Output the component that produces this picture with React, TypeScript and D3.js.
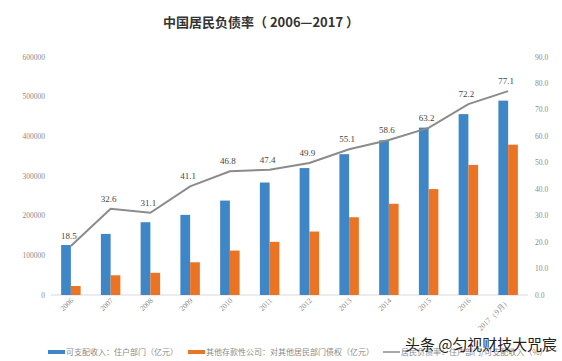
import React, { useEffect, useRef } from 'react'
import * as d3 from 'd3'

const years = ['2006', '2007', '2008', '2009', '2010', '2011', '2012', '2013', '2014', '2015', '2016', '2017（9月）']
const income = [126000, 154000, 183500, 202000, 238000, 283600, 320000, 355000, 390000, 422000, 456000, 490000]
const claims = [22700, 49700, 56000, 82500, 112000, 134000, 160000, 196000, 230000, 267000, 328000, 379000]
const debtRatio = [18.5, 32.6, 31.1, 41.1, 46.8, 47.4, 49.9, 55.1, 58.6, 63.2, 72.2, 77.1]
const leftTicks = [0, 100000, 200000, 300000, 400000, 500000, 600000]
const rightTicks = [0, 10, 20, 30, 40, 50, 60, 70, 80, 90]
const legendNames = ['可支配收入：住户部门（亿元）', '其他存款性公司：对其他居民部门债权（亿元）', '居民负债率：住户部门/可支配收入（%）']

const BLUE = '#3f86c6'
const ORANGE = '#ea7424'
const GRAY = '#8b8b8b'

export default function App() {
  const ref = useRef<SVGSVGElement>(null)

  const width = 562
  const height = 361
  const margin = { top: 57, right: 34, bottom: 66, left: 51 }

  useEffect(() => {
    const svg = d3.select(ref.current)
    svg.selectAll('*').remove()

    const x = d3.scaleBand().domain(years).range([margin.left, width - margin.right]).paddingInner(0.51).paddingOuter(0.255)
    const sub = d3.scaleBand().domain(['a', 'b']).range([0, x.bandwidth()])
    const yL = d3.scaleLinear().domain([0, 600000]).range([height - margin.bottom, margin.top])
    const yR = d3.scaleLinear().domain([0, 90]).range([height - margin.bottom, margin.top])

    // title
    svg.append('text')
      .attr('x', 261).attr('y', 27)
      .attr('text-anchor', 'middle')
      .attr('font-family', 'Noto Sans CJK SC, sans-serif')
      .attr('font-size', 13).attr('font-weight', 'bold')
      .attr('fill', '#333')
      .text('中国居民负债率（ 2006—2017 ）')

    // left axis labels
    svg.append('g').selectAll('text').data(leftTicks).join('text')
      .attr('x', 45).attr('y', d => yL(d) + 2.5)
      .attr('text-anchor', 'end')
      .attr('font-family', 'Liberation Serif, serif')
      .attr('font-size', 7.5).attr('fill', '#8a8a8a')
      .text(d => d)

    // right axis labels
    svg.append('g').selectAll('text').data(rightTicks).join('text')
      .attr('x', 535).attr('y', d => yR(d) + 2.5)
      .attr('font-family', 'Liberation Serif, serif')
      .attr('font-size', 7.5).attr('fill', '#8a8a8a')
      .text(d => d.toFixed(1))

    // baseline
    svg.append('line')
      .attr('x1', margin.left).attr('x2', width - margin.right)
      .attr('y1', yL(0)).attr('y2', yL(0))
      .attr('stroke', '#d9d9d9')

    // bars
    const g = svg.append('g')
    g.selectAll('rect.inc').data(income).join('rect')
      .attr('x', (d, i) => x(years[i])! + sub('a')!)
      .attr('y', d => yL(d))
      .attr('width', sub.bandwidth())
      .attr('height', d => yL(0) - yL(d))
      .attr('fill', BLUE)
    g.selectAll('rect.cl').data(claims).join('rect')
      .attr('x', (d, i) => x(years[i])! + sub('b')!)
      .attr('y', d => yL(d))
      .attr('width', sub.bandwidth())
      .attr('height', d => yL(0) - yL(d))
      .attr('fill', ORANGE)

    // line
    const cx = (i: number) => x(years[i])! + x.bandwidth() / 2
    const ln = d3.line<number>().x((d, i) => cx(i)).y(d => yR(d))
    svg.append('path')
      .datum(debtRatio)
      .attr('fill', 'none')
      .attr('stroke', GRAY)
      .attr('stroke-width', 2)
      .attr('d', ln)

    svg.append('g').selectAll('text').data(debtRatio).join('text')
      .attr('x', (d, i) => cx(i) - 2)
      .attr('y', d => yR(d) - 7)
      .attr('text-anchor', 'middle')
      .attr('font-family', 'Liberation Serif, serif')
      .attr('font-size', 9).attr('fill', '#444')
      .text(d => d.toFixed(1))

    // x labels
    svg.append('g').selectAll('text').data(years).join('text')
      .attr('transform', (d, i) => `translate(${cx(i) + 3},${yL(0) + 6}) rotate(-45)`)
      .attr('text-anchor', 'end')
      .attr('font-family', 'Liberation Serif, serif')
      .attr('font-size', 7.5).attr('fill', '#8a8a8a')
      .text(d => d)

    // legend
    const lg = svg.append('g').attr('font-family', 'Noto Sans CJK SC, sans-serif').attr('font-size', 8).attr('fill', '#8a8a8a')
    const items = [
      { x: 48, color: BLUE, w: 4 },
      { x: 188, color: ORANGE, w: 4 },
      { x: 383, color: GRAY, w: 1.5 },
    ]
    items.forEach((it, i) => {
      lg.append('line')
        .attr('x1', it.x).attr('x2', it.x + 17)
        .attr('y1', 352).attr('y2', 352)
        .attr('stroke', it.color).attr('stroke-width', it.w)
      lg.append('text')
        .attr('x', it.x + 18).attr('y', 355)
        .text(legendNames[i])
    })

    // watermark
    svg.append('text')
      .attr('x', 405).attr('y', 350)
      .attr('font-family', 'Noto Sans CJK SC, sans-serif')
      .attr('font-size', 15).attr('fill', '#222')
      .attr('textLength', 152).attr('lengthAdjust', 'spacingAndGlyphs')
      .text('头条 @匀视财技大咒宸')
  }, [])

  return (
    <svg ref={ref} width={width} height={height}
      style={{ position: 'absolute', left: 0, top: 0, background: '#fff' }} />
  )
}
